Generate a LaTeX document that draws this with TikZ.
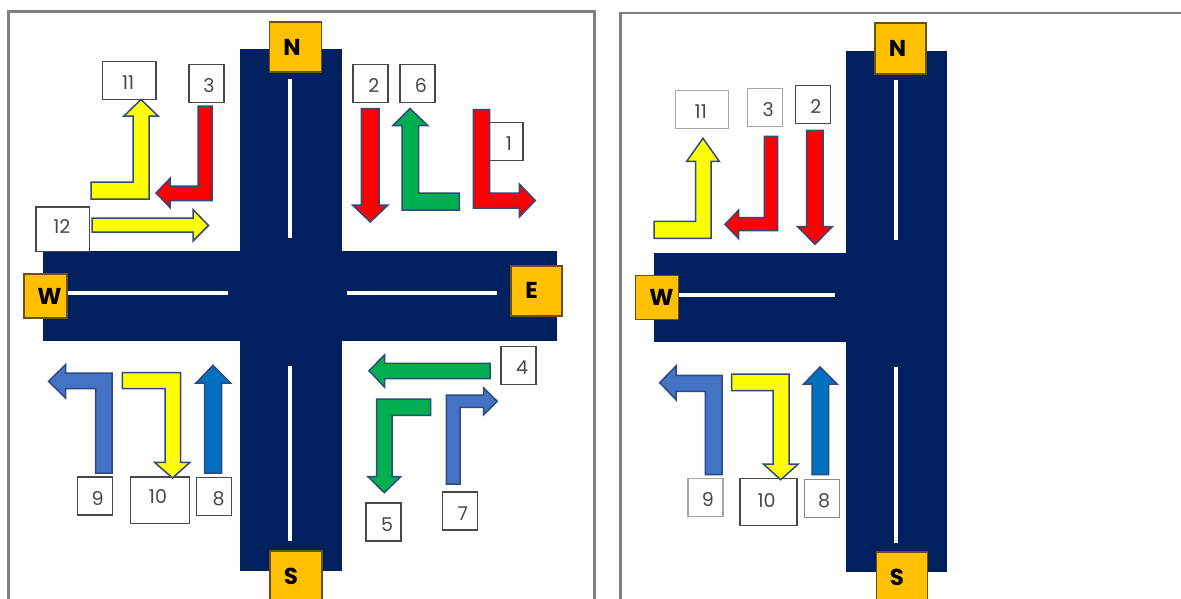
\documentclass[tikz,border=0pt]{standalone}
\usepackage{fontspec}
\usepackage{xcolor}
\setmainfont{Poppins}
\definecolor{road-navy}{HTML}{002060}
\definecolor{sign-gold}{HTML}{FFC000}
\definecolor{sign-edge}{HTML}{6B5210}
\definecolor{arrow-edge}{HTML}{2F4A7F}
\definecolor{arrow-red}{HTML}{FF0000}
\definecolor{arrow-yellow}{HTML}{FFFF00}
\definecolor{arrow-green}{HTML}{00B050}
\definecolor{arrow-steel}{HTML}{4472C4}
\definecolor{arrow-blue}{HTML}{0070C0}
\definecolor{frame-grey}{HTML}{7F7F7F}
\definecolor{num-grey}{HTML}{484848}
\definecolor{num-pale}{HTML}{A6A6A6}

\begin{document}
\begin{tikzpicture}[x=1pt, y=-1pt,
        road/.style={fill=road-navy},
        lane/.style={draw=white, line width=3.8pt},
        panel/.style={draw=frame-grey, line width=2.4pt},
        dirsign/.style={draw=sign-edge, fill=sign-gold, line width=1.3pt, inner sep=0pt,
            font=\fontsize{23}{25}\selectfont\bfseries, text=black},
        numbox/.style={draw=num-grey, fill=white, line width=1.3pt, inner sep=0pt,
            minimum width=35pt, minimum height=38pt, text height=18pt, text depth=0pt,
            font=\fontsize{19}{21}\selectfont, text=num-grey},
        palebox/.style={numbox, draw=num-pale},
        turn/.style={draw=arrow-edge, line width=1.5pt, line join=miter}]
      \useasboundingbox (0,0) rectangle (1181,598);
      \clip (0,0) rectangle (1181,598);
      \fill[white] (0,0) rectangle (1181,598);

      \draw[panel] (8.5,620) -- (8.5,11.5) -- (594.5,11.5) -- (594.5,620);
      \draw[panel] (620.5,620) -- (620.5,13) -- (1200,13);

      \fill[road] (239.5,48.5) rectangle (342,571);
      \fill[road] (42.5,251) rectangle (557,341);
      \draw[lane] (290,79) -- (290,238);
      \draw[lane] (290,366) -- (290,541);
      \draw[lane] (67,293) -- (228,293);
      \draw[lane] (347,293) -- (497,293);

      \node[dirsign, minimum width=52pt, minimum height=50pt] (NL) at (295.5,47) {\hspace*{-7pt}N};
      \node[dirsign, minimum width=51pt, minimum height=50pt] (EL) at (536.5,291) {\hspace*{-10pt}\raisebox{2pt}{E}};
      \node[dirsign, minimum width=43pt, minimum height=44pt] (WL) at (45.5,296) {\hspace*{8pt}W};
      \node[dirsign, minimum width=52pt, minimum height=50pt] (SL) at (296,576) {\hspace*{-10pt}S};

      \node[numbox, minimum width=53.5pt] (L11) at (129.2,80.8) {\hspace*{-2pt}11};
      \node[numbox] (L3) at (206.5,83.8) {\hspace*{5pt}3};
      \node[numbox, minimum width=53.5pt, minimum height=44.5pt] (L12) at (62.8,229.2) {\hspace*{-2pt}\raisebox{4.5pt}{12}};
      \node[numbox] (L2) at (370.4,83.8) {\hspace*{7pt}2};
      \node[numbox] (L6) at (417.4,83.8) {\hspace*{7pt}6};
      \node[numbox] (L1) at (505.5,141.2) {\hspace*{7pt}1};
      \node[numbox] (L4) at (518.5,365.7) {\hspace*{7pt}4};
      \node[numbox] (L5) at (383.5,522) {\hspace*{7pt}5};
      \node[numbox] (L7) at (460.2,511) {\hspace*{5pt}7};
      \node[numbox] (L9) at (95.2,496) {\hspace*{5pt}9};
      \node[numbox, minimum width=59pt, minimum height=46.7pt] (L10) at (160,500.3) {\hspace*{-4pt}\raisebox{5.5pt}{10}};
      \node[numbox] (L8) at (214,496.8) {\hspace*{9pt}8};

      \draw[turn, fill=arrow-yellow] (91,182) -- (133,182) -- (133,116) -- (124,116) -- (141,99.5)
            -- (158,116) -- (149,116) -- (149,199) -- (91,199) -- cycle;
      \draw[turn, fill=arrow-red] (198,106) -- (212,106) -- (212,200.5) -- (170,200.5) -- (170,207.5)
            -- (156,193) -- (170,178.5) -- (170,186) -- (198,186) -- cycle;
      \draw[turn, fill=arrow-yellow] (92,218) -- (193,218) -- (193,209.5) -- (208.5,225.5)
            -- (193,241) -- (193,232) -- (92,232) -- cycle;
      \draw[turn, fill=arrow-red] (361.3,108.5) -- (379,108.5) -- (379,205) -- (388,205)
            -- (370.3,222) -- (352.5,205) -- (361.3,205) -- cycle;
      \draw[turn, fill=arrow-green] (459.3,193) -- (418.7,193) -- (418.7,125.5) -- (427.7,125.5)
            -- (410,108.5) -- (393,125.5) -- (402,125.5) -- (402,210) -- (459.3,210) -- cycle;
      \draw[turn, fill=arrow-red] (473.3,109.5) -- (489.7,109.5) -- (489.7,193) -- (519.3,193) -- (519.3,184)
            -- (535.3,200.5) -- (519.3,217) -- (519.3,208) -- (473.3,208) -- cycle;
      \draw[turn, fill=arrow-steel] (95.5,473) -- (112,473) -- (112,373) -- (65.5,373) -- (65.5,364.7)
            -- (48.5,381.3) -- (65.5,398) -- (65.5,388.7) -- (95.5,388.7) -- cycle;
      \draw[turn, fill=arrow-yellow] (122.3,372.7) -- (180.5,372.7) -- (180.5,462.3) -- (190,462.3)
            -- (172.5,478) -- (154.5,462.3) -- (165,462.3) -- (165,388.7) -- (122.3,388.7) -- cycle;
      \draw[turn, fill=arrow-blue] (204.5,473) -- (221.5,473) -- (221.5,383) -- (230.5,383)
            -- (213,365.3) -- (196,383) -- (204.5,383) -- cycle;
      \draw[turn, fill=arrow-green] (490,363.3) -- (384.7,363.3) -- (384.7,354.7) -- (369,370.7)
            -- (384.7,387.3) -- (384.7,378.7) -- (490,378.7) -- cycle;
      \draw[turn, fill=arrow-green] (430.7,399) -- (376.7,399) -- (376.7,476.7) -- (368,476.7)
            -- (384.3,492.7) -- (400.7,476.7) -- (392,476.7) -- (392,415.3) -- (430.7,415.3) -- cycle;
      \draw[turn, fill=arrow-steel] (446.3,484) -- (460,484) -- (460,407.3) -- (483.7,407.3) -- (483.7,414.7)
            -- (497.3,401.3) -- (483.7,388) -- (483.7,395) -- (446.3,395) -- cycle;

      \fill[road] (846.3,50.5) rectangle (947.3,572.3);
      \fill[road] (653.7,252.5) rectangle (846.3,342.3);
      \draw[lane] (895.7,80) -- (895.7,240);
      \draw[lane] (895.7,367.3) -- (895.7,543);
      \draw[lane] (678,295) -- (835,295);

      \node[dirsign, minimum width=51pt, minimum height=51pt] (NR) at (900.6,48.6) {\hspace*{-6pt}N};
      \node[dirsign, minimum width=43pt, minimum height=44pt] (WR) at (657,297.4) {\hspace*{9pt}W};
      \node[dirsign, minimum width=51pt, minimum height=50pt] (SR) at (902,577) {\hspace*{-10pt}S};

      \node[palebox, minimum width=53pt] (R11) at (701.8,109.4) {\hspace*{-2pt}11};
      \node[palebox] (R3) at (765.2,107.4) {\hspace*{6pt}3};
      \node[numbox] (R2) at (812.8,104.6) {\hspace*{6pt}2};
      \node[palebox] (R9) at (705.4,497.5) {\hspace*{5pt}9};
      \node[numbox, minimum width=57pt, minimum height=47pt] (R10) at (768.5,501.8) {\hspace*{-4pt}\raisebox{3.5pt}{10}};
      \node[numbox, draw=num-pale!70!num-grey] (R8) at (821.7,498.7) {\hspace*{5pt}8};

      \draw[turn, fill=arrow-yellow] (654,221.3) -- (695.7,221.3) -- (695.7,161.3) -- (686.7,161.3) -- (703,138.3)
            -- (719.3,161.3) -- (711,161.3) -- (711,238.3) -- (654,238.3) -- cycle;
      \draw[turn, fill=arrow-red] (764.3,136.3) -- (777.7,136.3) -- (777.7,230.7) -- (738.7,230.7) -- (738.7,238.7)
            -- (725,224.3) -- (738.7,210) -- (738.7,217.7) -- (764.3,217.7) -- cycle;
      \draw[turn, fill=arrow-red] (806.7,130.3) -- (823,130.3) -- (823,226.7) -- (832.3,226.7)
            -- (815,244.3) -- (797.7,226.7) -- (806.7,226.7) -- cycle;
      \draw[turn, fill=arrow-steel] (705.3,474.7) -- (722,474.7) -- (722,375.3) -- (676,375.3) -- (676,366)
            -- (659.7,382.7) -- (676,399.7) -- (676,391.3) -- (705.3,391.3) -- cycle;
      \draw[turn, fill=arrow-yellow] (731.7,374) -- (789,374) -- (789,464) -- (798.3,464)
            -- (780.7,479.7) -- (763.3,464) -- (773,464) -- (773,390.7) -- (731.7,390.7) -- cycle;
      \draw[turn, fill=arrow-blue] (812,474.7) -- (828.7,474.7) -- (828.7,384) -- (837,384)
            -- (820,367) -- (803.7,384) -- (812,384) -- cycle;
    \end{tikzpicture}
\end{document}
